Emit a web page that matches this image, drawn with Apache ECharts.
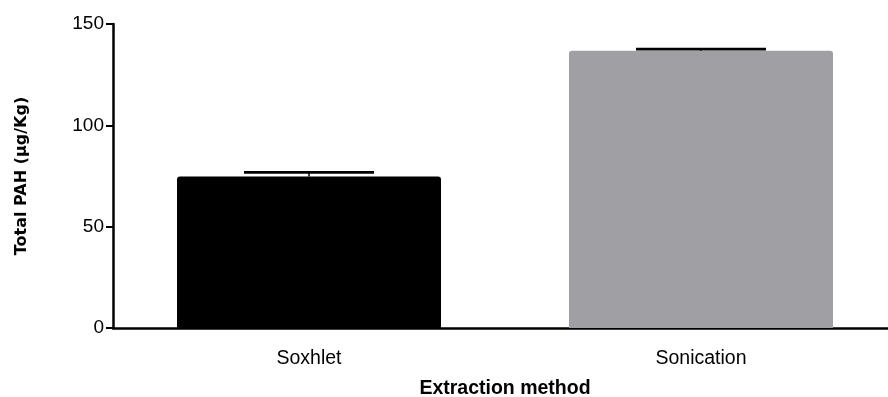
<!DOCTYPE html>
<html>
<head>
<meta charset="utf-8">
<script src="https://cdn.jsdelivr.net/npm/echarts@6/dist/echarts.min.js"></script>
<style>html,body{margin:0;padding:0;background:#fff;}#c{width:888px;height:397px;}</style>
</head>
<body>
<div id="c"></div>
<script>
const categories = ['Soxhlet', 'Sonication'];
const means = [74.8, 136.8];
const errTops = [76.8, 137.6];
const barColors = ['#000000', '#a09fa4'];
const yTicks = [0, 50, 100, 150];

const chart = echarts.init(document.getElementById('c'), null, {renderer: 'canvas'});
const font = 'Liberation Sans, Arial, sans-serif';
chart.setOption({
  animation: false,
  backgroundColor: '#fff',
  grid: {left: 113, right: -9, top: 24, bottom: 69, containLabel: false, outerBoundsMode: 'none'},
  xAxis: {
    type: 'category',
    data: categories,
    boundaryGap: true,
    axisLine: {lineStyle: {color: '#000', width: 2.5}},
    axisTick: {alignWithLabel: true, length: 7, lineStyle: {color: '#000', width: 2}},
    axisLabel: {color: '#000', fontFamily: font, fontSize: 19.5, margin: 21},
    name: 'Extraction method',
    nameLocation: 'middle',
    nameGap: 51,
    nameTextStyle: {color: '#000', fontFamily: font, fontSize: 19.5, fontWeight: 'bold'}
  },
  yAxis: {
    type: 'value',
    min: yTicks[0], max: yTicks[yTicks.length - 1], interval: 50,
    axisLine: {show: true, lineStyle: {color: '#000', width: 2.5}},
    axisTick: {show: true, length: 7, lineStyle: {color: '#000', width: 2}},
    splitLine: {show: false},
    axisLabel: {color: '#000', fontFamily: font, fontSize: 19, margin: 9},
    name: 'Total PAH (µg/Kg)',
    nameLocation: 'middle',
    nameGap: 83,
    nameTextStyle: {color: '#000', fontFamily: 'DejaVu Sans, sans-serif', fontSize: 16, fontWeight: 'bold'}
  },
  series: [
    {
      type: 'bar',
      barWidth: 264,
      data: means.map((v, i) => ({value: v, itemStyle: {color: barColors[i], borderRadius: [3, 3, 0, 0]}})),
      z: 2
    },
    {
      type: 'custom',
      z: 3,
      data: errTops.map((v, i) => [i, means[i], v]),
      renderItem: function (params, api) {
        const i = api.value(0);
        const top = api.coord([i, api.value(2)]);
        const bot = api.coord([i, api.value(1)]);
        const half = 65;
        return {
          type: 'group',
          children: [
            {type: 'line', shape: {x1: top[0] - half, y1: top[1], x2: top[0] + half, y2: top[1]}, style: {stroke: '#000', lineWidth: 2.7}},
            {type: 'line', shape: {x1: top[0], y1: top[1], x2: top[0], y2: bot[1]}, style: {stroke: '#000', lineWidth: 1.5}}
          ]
        };
      }
    }
  ]
});
</script>
</body>
</html>
